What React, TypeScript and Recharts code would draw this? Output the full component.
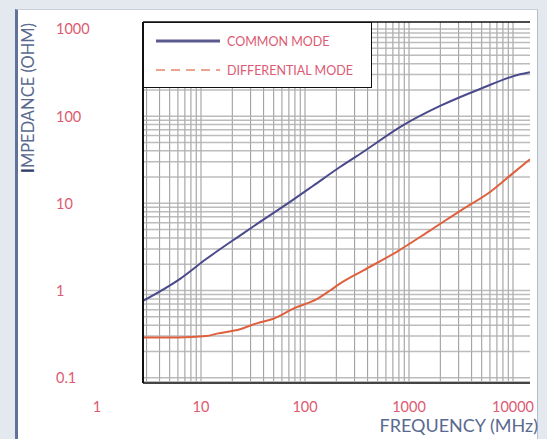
import { LineChart, Line, XAxis, YAxis, ReferenceLine, Legend } from "recharts";

// frequency in MHz, impedance in ohm
const commonFreq = [2.77, 6.3, 11.3, 23.7, 36.9, 71.8, 119, 217, 361, 819, 1990, 4820, 11700, 14560];
const commonZ = [0.76, 1.36, 2.31, 4.27, 6.12, 10.4, 15.8, 26.1, 38.8, 75, 131, 205, 303, 320];

const diffFreq = [2.77, 6, 11.3, 14.2, 23.7, 34.3, 49.6, 77.2, 131, 174, 217, 361, 762, 1590, 3300, 6010, 9360, 14560];
const diffZ = [0.29, 0.29, 0.3, 0.32, 0.36, 0.42, 0.475, 0.62, 0.8, 1.0, 1.2, 1.69, 2.78, 4.87, 8.6, 13.5, 20.8, 32];

const freqTicks = [1, 10, 100, 1000, 10000];
const impTicks = [0.1, 1, 10, 100, 1000];
const seriesNames = ["COMMON MODE", "DIFFERENTIAL MODE"];

const X_DOMAIN: [number, number] = [2.77, 14560];
const Y_DOMAIN: [number, number] = [0.0869, 1203];

const LABEL_RED = "#dc5a72";
const TITLE_BLUE = "#5a6990";
const FONT = "Lato, 'Open Sans', sans-serif";

const commonData = commonFreq.map((f, i) => ({ f, z: commonZ[i] }));
const diffData = diffFreq.map((f, i) => ({ f, z: diffZ[i] }));

// log paper grid: 1..9 in every decade
function logGrid(lo: number, hi: number) {
  const out: number[] = [];
  for (let d = 0.01; d <= 100000; d *= 10) {
    for (let m = 1; m <= 9; m++) {
      const v = +(m * d).toPrecision(3);
      if (v > lo && v < hi) out.push(v);
    }
  }
  return out;
}
const gridX = logGrid(X_DOMAIN[0], X_DOMAIN[1]);
const gridY = logGrid(Y_DOMAIN[0], Y_DOMAIN[1]);

function XTick(props: any) {
  const { x, y, payload } = props;
  return (
    <text x={x} y={y + 15} textAnchor="middle" dominantBaseline="central" fill={LABEL_RED} fontSize={14.5} fontFamily={FONT}>
      {payload.value}
    </text>
  );
}

function YTick(props: any) {
  const { y, payload } = props;
  return (
    <text x={56} y={y} textAnchor="start" dominantBaseline="central" fill={LABEL_RED} fontSize={14.5} fontFamily={FONT}>
      {payload.value}
    </text>
  );
}

function LegendBox() {
  return (
    <div
      style={{
        width: 229,
        height: 66,
        boxSizing: "border-box",
        background: "#fff",
        border: "1px solid #111",
        fontFamily: FONT,
        fontSize: 12.5,
        color: LABEL_RED,
      }}
    >
      <div style={{ display: "flex", alignItems: "center", height: 36, paddingLeft: 12 }}>
        <svg width={66} height={6} style={{ marginRight: 5 }}>
          <line x1={0} y1={3} x2={64} y2={3} stroke="#5a5a8e" strokeWidth={3} />
        </svg>
        <span>{seriesNames[0]}</span>
      </div>
      <div style={{ display: "flex", alignItems: "center", height: 22, paddingLeft: 12 }}>
        <svg width={66} height={6} style={{ marginRight: 5 }}>
          <line x1={0} y1={3} x2={64} y2={3} stroke="#eba58f" strokeWidth={2} strokeDasharray="9 6" />
        </svg>
        <span>{seriesNames[1]}</span>
      </div>
    </div>
  );
}

export default function App() {
  return (
    <div style={{ position: "fixed", left: 0, top: 0, width: 547, height: 439, background: "#e4e9f0", overflow: "hidden" }}>
      <div
        style={{
          position: "absolute",
          left: 15,
          top: 9,
          width: 523,
          height: 440,
          boxSizing: "border-box",
          background: "#fff",
          borderLeft: "3px solid #60729a",
          borderTop: "1px solid #c8d0dc",
          borderRight: "1px solid #b4bfcd",
        }}
      />
      <div style={{ position: "absolute", left: 0, top: 0 }}>
        <LineChart width={547} height={439} margin={{ top: 22, right: 17, bottom: 0, left: 0 }}>
          {gridX.map((v) => (
            <ReferenceLine key={"gx" + v} x={v} stroke="#858585" strokeWidth={1} strokeOpacity={0.85} />
          ))}
          {gridY.map((v) => (
            <ReferenceLine key={"gy" + v} y={v} stroke="#b0b0b0" strokeWidth={1.5} strokeOpacity={0.85} />
          ))}
          <ReferenceLine y={Y_DOMAIN[1]} stroke="#111" strokeWidth={1.5} />
          <XAxis
            dataKey="f"
            type="number"
            scale="log"
            domain={X_DOMAIN}
            allowDataOverflow
            ticks={freqTicks}
            interval={0}
            height={56}
            tick={<XTick />}
            tickLine={false}
            axisLine={{ stroke: "#444", strokeWidth: 2 }}
            label={{
              content: () => (
                <text x={538} y={425} textAnchor="end" dominantBaseline="central" fill={TITLE_BLUE} fontSize={18} fontFamily={FONT}>
                  FREQUENCY (MHz)
                </text>
              ),
            }}
          />
          <YAxis
            type="number"
            scale="log"
            domain={Y_DOMAIN}
            allowDataOverflow
            ticks={impTicks}
            interval={0}
            width={143}
            tick={<YTick />}
            tickLine={false}
            axisLine={{ stroke: "#111", strokeWidth: 2 }}
            label={{
              content: () => (
                <text
                  x={28}
                  y={98}
                  transform="rotate(-90 28 98)"
                  textAnchor="middle"
                  dominantBaseline="central"
                  fill={TITLE_BLUE}
                  fontSize={16.5}
                  fontFamily={FONT}
                >
                  <tspan fill="#2f3d66" fontWeight={700}>I</tspan>MPEDANCE (OHM)
                </text>
              ),
            }}
          />
          <Legend
            layout="horizontal"
            verticalAlign="middle"
            align="center"
            content={() => <LegendBox />}
            wrapperStyle={{ left: 143, top: 22, width: 229, height: 66 }}
          />
          <Line
            data={commonData}
            dataKey="z"
            name={seriesNames[0]}
            type="monotone"
            stroke="#4b4a8c"
            strokeWidth={2}
            dot={false}
            isAnimationActive={false}
          />
          <Line
            data={diffData}
            dataKey="z"
            name={seriesNames[1]}
            type="monotone"
            stroke="#e0603e"
            strokeWidth={2}
            dot={false}
            isAnimationActive={false}
          />
        </LineChart>
      </div>
    </div>
  );
}
